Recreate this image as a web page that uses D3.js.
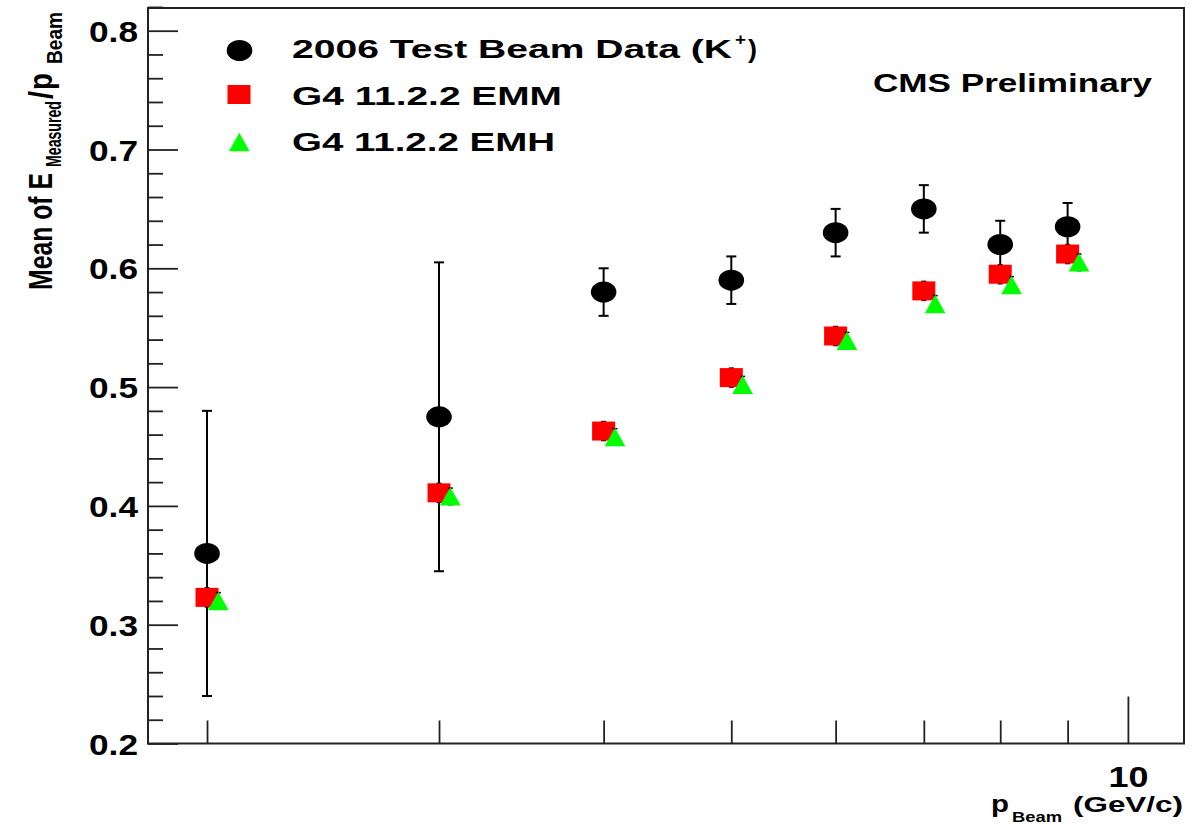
<!DOCTYPE html>
<html>
<head>
<meta charset="utf-8">
<script src="https://cdn.jsdelivr.net/npm/d3@7"></script>
<style>
  html, body { margin: 0; padding: 0; background: #fff; }
  svg { display: block; }
  text { font-family: "Liberation Sans", Arial, Helvetica, sans-serif; font-weight: bold; fill: #000; }
</style>
</head>
<body>
<svg id="chart" width="1204" height="825"></svg>
<script>
// Beam momenta (GeV/c) and mean measured energy fraction
const pBeam    = [2, 3, 4, 5, 6, 7, 8, 9];
const dataMean = [0.360, 0.475, 0.580, 0.590, 0.630, 0.650, 0.620, 0.635];
const dataErr  = [0.120, 0.130, 0.020, 0.020, 0.020, 0.020, 0.020, 0.020];

const emmMean  = [0.323, 0.411, 0.463, 0.508, 0.543, 0.581, 0.595, 0.612];
const emmErr   = [0.008, 0.008, 0.008, 0.008, 0.008, 0.008, 0.008, 0.008];

// EMH points are drawn slightly shifted in momentum so both MC sets stay visible
const emhP     = [2.04, 3.06, 4.08, 5.10, 6.12, 7.14, 8.16, 9.18];
const emhMean  = [0.320, 0.408, 0.458, 0.502, 0.539, 0.570, 0.586, 0.605];
const emhErr   = [0.007, 0.007, 0.007, 0.007, 0.007, 0.007, 0.007, 0.007];

const yMajorTicks = [0.2, 0.3, 0.4, 0.5, 0.6, 0.7, 0.8];
const yTickLabels = ["0.2", "0.3", "0.4", "0.5", "0.6", "0.7", "0.8"];
const xMinorTicks = [2, 3, 4, 5, 6, 7, 8, 9];
const xMajorTicks = [10];
const xTickLabels = ["10"];

const legendLabels = ["2006 Test Beam Data (K", "G4 11.2.2 EMM", "G4 11.2.2 EMH"];

const svg = d3.select("#chart");
const frame = { left: 148, right: 1184, top: 8, bottom: 743.5 };

const x = d3.scaleLog().domain([1.804, 11.03]).range([frame.left, frame.right]);
const y = d3.scaleLinear().domain([0.2, 0.2 + (frame.bottom - frame.top) / 1188]).range([frame.bottom, frame.top]);

const axisColor = "#222";

// ---- Y axis: major + minor ticks pointing into the frame ----
const yMinor = d3.range(0.2, 0.8201, 0.02).map(v => +v.toFixed(2)).filter(v => !yMajorTicks.some(m => Math.abs(m - v) < 1e-6));
const gyMinor = svg.append("g").attr("transform", `translate(${frame.left},0)`)
  .call(d3.axisLeft(y).tickValues(yMinor).tickSize(-15).tickFormat(""));
const gyMajor = svg.append("g").attr("transform", `translate(${frame.left},0)`)
  .call(d3.axisLeft(y).tickValues(yMajorTicks).tickSize(-30).tickPadding(10)
        .tickFormat((d, i) => yTickLabels[i]));
[gyMinor, gyMajor].forEach(g => {
  g.select(".domain").remove();
  g.selectAll(".tick line").attr("stroke", axisColor).attr("stroke-width", 1.8);
});
gyMajor.selectAll(".tick text")
  .attr("font-size", 29).attr("font-family", null).attr("dy", 10.5)
  .attr("textLength", 49).attr("lengthAdjust", "spacingAndGlyphs");

// ---- X axis (log): ticks pointing up into the frame ----
const gxMinor = svg.append("g").attr("transform", `translate(0,${frame.bottom})`)
  .call(d3.axisBottom(x).tickValues(xMinorTicks).tickSize(-23).tickFormat(""));
const gxMajor = svg.append("g").attr("transform", `translate(0,${frame.bottom})`)
  .call(d3.axisBottom(x).tickValues(xMajorTicks).tickSize(-47).tickPadding(0)
        .tickFormat((d, i) => xTickLabels[i]));
[gxMinor, gxMajor].forEach(g => {
  g.select(".domain").remove();
  g.selectAll(".tick line").attr("stroke", axisColor).attr("stroke-width", 1.8);
});
gxMajor.selectAll(".tick text")
  .attr("font-size", 29).attr("font-family", null)
  .attr("y", 43.5).attr("dy", null)
  .attr("textLength", 40).attr("lengthAdjust", "spacingAndGlyphs");

// ---- Frame ----
svg.append("rect")
  .attr("x", frame.left).attr("y", frame.top)
  .attr("width", frame.right - frame.left).attr("height", frame.bottom - frame.top)
  .attr("fill", "none").attr("stroke", axisColor).attr("stroke-width", 2);

// ---- Error bars helper ----
function errorBars(xs, means, errs, cap, width) {
  const g = svg.append("g").attr("stroke", "#000").attr("stroke-width", width);
  xs.forEach((p, i) => {
    const cx = x(p), y0 = y(means[i] - errs[i]), y1 = y(means[i] + errs[i]);
    g.append("line").attr("x1", cx).attr("x2", cx).attr("y1", y0).attr("y2", y1);
    g.append("line").attr("x1", cx - cap).attr("x2", cx + cap).attr("y1", y0).attr("y2", y0);
    g.append("line").attr("x1", cx - cap).attr("x2", cx + cap).attr("y1", y1).attr("y2", y1);
  });
}

// Marker shapes
const drawCircle = (g, cx, cy) => g.append("ellipse").attr("cx", cx).attr("cy", cy).attr("rx", 12.8).attr("ry", 10.5).attr("fill", "#000");
const drawSquare = (g, cx, cy) => g.append("rect").attr("x", cx - 11.5).attr("y", cy - 9.5).attr("width", 23).attr("height", 19).attr("fill", "#ff0000");
const drawTriangle = (g, cx, cy) => g.append("path")
  .attr("d", `M${cx - 10.3},${cy + 9.2} L${cx + 10.3},${cy + 9.2} L${cx},${cy - 9.2} Z`).attr("fill", "#00ff00");

// ---- Test beam data ----
errorBars(pBeam, dataMean, dataErr, 5, 2);
const gData = svg.append("g");
pBeam.forEach((p, i) => drawCircle(gData, x(p), y(dataMean[i])));

// ---- G4 EMM ----
errorBars(pBeam, emmMean, emmErr, 2.5, 1.5);
const gEmm = svg.append("g");
pBeam.forEach((p, i) => drawSquare(gEmm, x(p), y(emmMean[i])));

// ---- G4 EMH ----
errorBars(emhP, emhMean, emhErr, 2.5, 1.5);
const gEmh = svg.append("g");
emhP.forEach((p, i) => drawTriangle(gEmh, x(p), y(emhMean[i])));

// ---- Legend ----
const leg = svg.append("g");
drawCircle(leg, 239.5, 50.5);
drawSquare(leg, 239, 94.5);
drawTriangle(leg, 239.3, 142);
leg.append("text").attr("x", 292).attr("y", 58).attr("font-size", 26)
  .attr("textLength", 440).attr("lengthAdjust", "spacingAndGlyphs").text(legendLabels[0]);
leg.append("text").attr("x", 735).attr("y", 45).attr("font-size", 16)
  .attr("textLength", 11).attr("lengthAdjust", "spacingAndGlyphs").text("+");
leg.append("text").attr("x", 748).attr("y", 58).attr("font-size", 26)
  .attr("textLength", 9).attr("lengthAdjust", "spacingAndGlyphs").text(")");
leg.append("text").attr("x", 292).attr("y", 105).attr("font-size", 26)
  .attr("textLength", 270).attr("lengthAdjust", "spacingAndGlyphs").text(legendLabels[1]);
leg.append("text").attr("x", 292).attr("y", 151).attr("font-size", 26)
  .attr("textLength", 263).attr("lengthAdjust", "spacingAndGlyphs").text(legendLabels[2]);

// ---- CMS label ----
svg.append("text").attr("x", 873).attr("y", 92).attr("font-size", 25)
  .attr("textLength", 279).attr("lengthAdjust", "spacingAndGlyphs").text("CMS Preliminary");

// ---- X title: p_Beam (GeV/c) ----
const xt = svg.append("g");
xt.append("text").attr("x", 991).attr("y", 812).attr("font-size", 24)
  .attr("textLength", 18).attr("lengthAdjust", "spacingAndGlyphs").text("p");
xt.append("text").attr("x", 1012).attr("y", 822).attr("font-size", 15)
  .attr("textLength", 50).attr("lengthAdjust", "spacingAndGlyphs").text("Beam");
xt.append("text").attr("x", 1073).attr("y", 812).attr("font-size", 22)
  .attr("textLength", 110).attr("lengthAdjust", "spacingAndGlyphs").text("(GeV/c)");

// ---- Y title: Mean of E_Measured / p_Beam (rotated) ----
const yt = svg.append("g").attr("transform", "translate(51.7,290) scale(1.31,1) rotate(-90)");
yt.append("text").attr("x", 0).attr("y", 0).attr("font-size", 25)
  .attr("textLength", 117).attr("lengthAdjust", "spacingAndGlyphs").text("Mean of E");
yt.append("text").attr("x", 123).attr("y", 7).attr("font-size", 17)
  .attr("textLength", 66).attr("lengthAdjust", "spacingAndGlyphs").text("Measured");
yt.append("text").attr("x", 191).attr("y", 0).attr("font-size", 25)
  .attr("textLength", 8).attr("lengthAdjust", "spacingAndGlyphs").text("/");
yt.append("text").attr("x", 200).attr("y", 0).attr("font-size", 25)
  .attr("textLength", 17).attr("lengthAdjust", "spacingAndGlyphs").text("p");
yt.append("text").attr("x", 226).attr("y", 8).attr("font-size", 17)
  .attr("textLength", 52).attr("lengthAdjust", "spacingAndGlyphs").text("Beam");
</script>
</body>
</html>
